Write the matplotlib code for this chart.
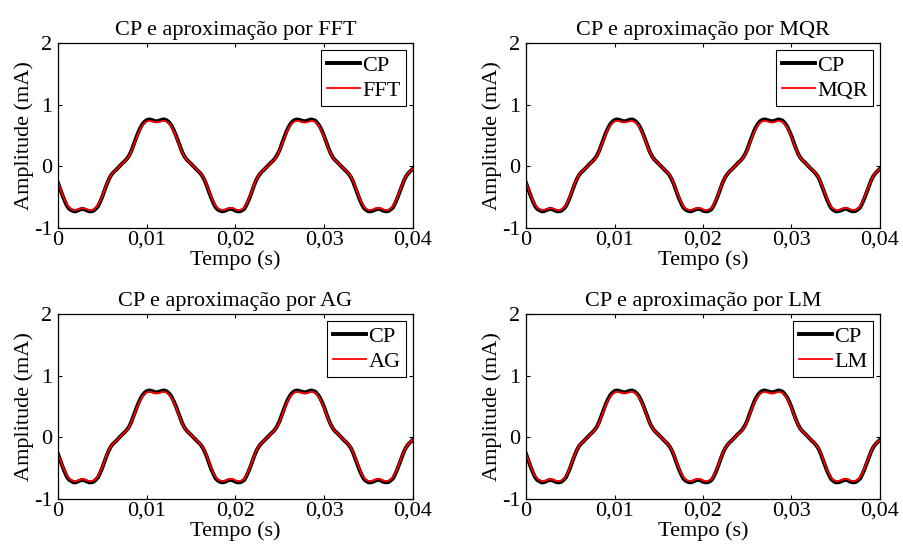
import matplotlib
matplotlib.use("Agg")
import matplotlib.pyplot as plt

plt.rcParams['font.family'] = ['Liberation Serif', 'DejaVu Serif']
plt.rcParams['axes.unicode_minus'] = False

# tempo em segundos, passo de 0,25 ms
tempo = [i * 0.00025 for i in range(161)]

# corrente medida (CP), em mA
cp = [
    -0.27, -0.37, -0.47, -0.56, -0.64, -0.69, -0.71, -0.73, -0.73, -0.715,
    -0.70, -0.69, -0.70, -0.715, -0.73, -0.73, -0.72, -0.69, -0.65, -0.575,
    -0.49, -0.387, -0.29, -0.205, -0.14, -0.097, -0.065, -0.028, 0.01, 0.048,
    0.08, 0.12, 0.17, 0.245, 0.34, 0.44, 0.535, 0.615, 0.68, 0.722,
    0.75, 0.76, 0.755, 0.742, 0.73, 0.732, 0.745, 0.757, 0.76, 0.745,
    0.715, 0.67, 0.60, 0.517, 0.42, 0.32, 0.23, 0.16, 0.11, 0.075,
    0.04, 0.003, -0.035, -0.072, -0.105, -0.153, -0.22, -0.307, -0.41, -0.506,
    -0.59, -0.663, -0.70, -0.72, -0.73, -0.725, -0.71, -0.695, -0.69, -0.70,
    -0.72, -0.73, -0.73, -0.715, -0.69, -0.625, -0.545, -0.453, -0.35, -0.255,
    -0.18, -0.127, -0.085, -0.052, -0.015, 0.022, 0.06, 0.092, 0.135, 0.195,
    0.27, 0.373, 0.47, 0.565, 0.64, 0.697, 0.735, 0.755, 0.76, 0.75,
    0.74, 0.73, 0.735, 0.748, 0.76, 0.755, 0.74, 0.70, 0.65, 0.575,
    0.49, 0.387, 0.29, 0.205, 0.14, 0.097, 0.065, 0.028, -0.01, -0.048,
    -0.08, -0.12, -0.17, -0.245, -0.34, -0.44, -0.535, -0.615, -0.68, -0.71,
    -0.73, -0.73, -0.72, -0.705, -0.69, -0.69, -0.71, -0.725, -0.73, -0.725,
    -0.70, -0.67, -0.60, -0.517, -0.42, -0.32, -0.23, -0.16, -0.11, -0.075,
    -0.04,
]

# aproximacao obtida (praticamente igual nos quatro metodos)
aprox = [
    -0.26, -0.36, -0.46, -0.545, -0.62, -0.67, -0.69, -0.71, -0.71, -0.70,
    -0.685, -0.68, -0.685, -0.70, -0.71, -0.71, -0.70, -0.67, -0.63, -0.56,
    -0.475, -0.375, -0.28, -0.20, -0.135, -0.094, -0.063, -0.027, 0.01, 0.047,
    0.078, 0.116, 0.165, 0.238, 0.33, 0.427, 0.52, 0.597, 0.66, 0.70,
    0.727, 0.737, 0.733, 0.722, 0.715, 0.716, 0.725, 0.735, 0.737, 0.723,
    0.694, 0.65, 0.582, 0.50, 0.407, 0.31, 0.223, 0.155, 0.107, 0.073,
    0.039, 0.003, -0.034, -0.07, -0.102, -0.148, -0.213, -0.298, -0.40, -0.49,
    -0.572, -0.643, -0.68, -0.70, -0.71, -0.705, -0.69, -0.68, -0.675, -0.68,
    -0.70, -0.71, -0.71, -0.695, -0.67, -0.606, -0.53, -0.44, -0.34, -0.247,
    -0.175, -0.123, -0.082, -0.05, -0.015, 0.021, 0.058, 0.089, 0.131, 0.19,
    0.262, 0.362, 0.456, 0.548, 0.62, 0.676, 0.713, 0.732, 0.737, 0.728,
    0.718, 0.71, 0.713, 0.726, 0.737, 0.732, 0.718, 0.68, 0.63, 0.558,
    0.475, 0.375, 0.28, 0.20, 0.136, 0.094, 0.063, 0.027, -0.01, -0.047,
    -0.078, -0.116, -0.165, -0.238, -0.33, -0.427, -0.52, -0.597, -0.66, -0.69,
    -0.71, -0.71, -0.70, -0.685, -0.675, -0.675, -0.69, -0.705, -0.71, -0.705,
    -0.68, -0.65, -0.582, -0.50, -0.407, -0.31, -0.223, -0.155, -0.107, -0.073,
    -0.039,
]

metodos = ['FFT', 'MQR', 'AG', 'LM']
xticks = [0, 0.01, 0.02, 0.03, 0.04]
xtick_labels = ['0', '0,01', '0,02', '0,03', '0,04']
yticks = [-1, 0, 1, 2]

fig = plt.figure(figsize=(9.04, 5.48), dpi=100)

# posicoes dos eixos [esq, baixo, largura, altura]
posicoes = [
    [0.0642, 0.584, 0.3925, 0.3376],
    [0.5819, 0.584, 0.3915, 0.3376],
    [0.0642, 0.0894, 0.3925, 0.3376],
    [0.5819, 0.0894, 0.3915, 0.3376],
]

fs = 16

for metodo, pos in zip(metodos, posicoes):
    ax = fig.add_axes(pos)
    ax.plot(tempo, cp, color='black', linewidth=2.8, label='CP',
            solid_joinstyle='round')
    ax.plot(tempo, aprox, color='red', linewidth=1.3, label=metodo,
            solid_joinstyle='round')
    ax.set_xlim(0, 0.04)
    ax.set_ylim(-1, 2)
    ax.set_xticks(xticks)
    ax.set_xticklabels(xtick_labels)
    ax.set_yticks(yticks)
    ax.tick_params(direction='in', top=True, right=True, length=3,
                   width=0.8, labelsize=fs)
    ax.tick_params(axis='x', pad=2)
    ax.tick_params(axis='y', pad=4)
    for s in ax.spines.values():
        s.set_linewidth(0.9)
    ax.set_title('CP e aproximação por ' + metodo, fontsize=fs, pad=6)
    ax.set_xlabel('Tempo (s)', fontsize=fs, labelpad=0.5)
    ax.set_ylabel('Amplitude (mA)', fontsize=fs, labelpad=0)
    leg = ax.legend(loc='upper right', fontsize=fs, frameon=True,
                    fancybox=False, framealpha=1, edgecolor='black',
                    handlelength=1.5, handletextpad=0.1, borderpad=0.25,
                    labelspacing=0.2, borderaxespad=0.3)
    leg.get_frame().set_linewidth(0.8)

fig.savefig('out.png', dpi=100)
